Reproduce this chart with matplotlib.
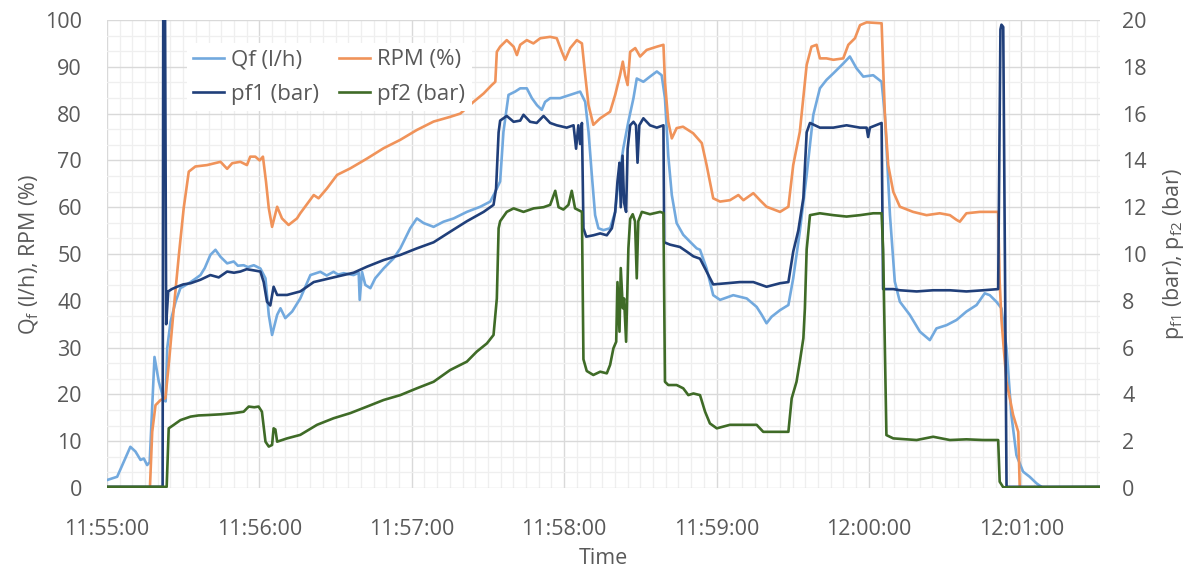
import datetime as dt
import matplotlib
matplotlib.use("Agg")
import matplotlib.pyplot as plt
from matplotlib.ticker import MultipleLocator, FuncFormatter

plt.rcParams['font.family'] = ['Open Sans', 'DejaVu Sans']
plt.rcParams['mathtext.fontset'] = 'custom'
plt.rcParams['mathtext.rm'] = 'Open Sans'

# time in seconds after 11:55:00, value
qf = [(0, 1.7), (4, 2.4), (6.6, 5.6), (9.2, 8.8), (11.2, 7.8), (13.2, 6), (14.5, 6.3),
      (15.8, 4.9), (16.8, 5.5), (18.7, 28), (20.4, 22.7), (22.4, 18.8), (23.1, 18.5),
      (23.7, 29.8), (25, 35.5), (27, 39.8), (28.9, 42.7), (30.5, 43.2), (32.9, 44),
      (34.5, 44.6), (36.8, 45.5), (38.5, 47), (40.7, 49.8), (42.7, 50.9), (44.7, 49.4),
      (47.3, 48), (49.9, 48.4), (51.5, 47.5), (53.8, 47.6), (55.5, 47.2), (57.8, 47.6),
      (60.4, 46.9), (62.4, 44.8), (63.7, 37), (65, 32.7), (67, 37), (68.3, 38.4),
      (70.2, 36.3), (72.9, 37.7), (76.1, 40.5), (80.1, 45.5), (84, 46.2), (86.5, 45.4),
      (89.2, 46.2), (91, 45.6), (93.2, 45.9), (97.1, 45.5), (99.1, 46), (99.5, 40.2),
      (100.4, 46.2), (101.7, 43.4), (103.7, 42.7), (105.6, 44.8), (108.9, 46.9),
      (112.9, 49.1), (115.5, 51.2), (119.4, 55.5), (122, 57.6), (124.7, 56.6),
      (128.6, 55.8), (132.5, 56.9), (136.5, 57.6), (141.7, 59), (147, 60.1),
      (150.9, 61.2), (152.9, 63.3), (154.8, 65.5), (156.1, 76.1), (158.1, 84),
      (160.7, 84.7), (162.7, 85.4), (165.3, 85.4), (167.3, 83.3), (169.3, 81.8),
      (171.2, 80.8), (172.5, 82.5), (174.5, 83.3), (178.4, 83.3), (182.4, 84),
      (186.3, 84.7), (188.3, 82.5), (189.6, 76.1), (190.9, 66.9), (192.2, 58.3),
      (193.5, 55.5), (195.5, 55.1), (198.1, 55.5), (200.1, 59), (201.4, 65.5),
      (203.3, 72.6), (205.3, 78.3), (207.3, 83.3), (208.6, 87.5), (211.2, 86.8),
      (213.8, 87.9), (216.5, 89), (218.4, 88.2), (219.7, 83.3), (221, 71),
      (222.4, 62.6), (224.3, 56.6), (226.9, 54.1), (229.6, 52.6), (232.2, 51.2),
      (233.5, 50.9), (236.1, 46.9), (238.7, 41.2), (241.4, 40.2), (246.6, 41.2),
      (251.9, 40.5), (255.8, 38.7), (257.8, 37), (259.7, 35.2), (261.7, 36.6),
      (265, 38), (268.3, 39.1), (270.2, 44.8), (272.8, 54.8), (275.5, 66.9),
      (278.1, 79.7), (280.7, 85.4), (283.3, 87.2), (286, 88.6), (289.9, 90.7),
      (292.5, 92.2), (295.1, 89.7), (297.8, 87.9), (301.7, 88.2), (305, 86.8),
      (306.3, 79.7), (308.3, 58.3), (310.2, 44.1), (312.2, 39.8), (316.1, 37),
      (320.1, 33.4), (324, 31.6), (326.6, 34.1), (330.6, 34.8), (334.5, 35.9),
      (338.4, 37.7), (342.4, 39.1), (345.6, 41.6), (347.6, 41.2), (350.2, 39.8),
      (352.2, 38.4), (354.2, 29.8), (356.1, 15.6), (358.1, 7), (360.7, 3.5),
      (363.3, 2.4), (366, 1), (368.6, 0), (391, 0)]

rpm = [(0, 0), (16.9, 0), (17.8, 12), (19.1, 17.7), (21.1, 18.8), (23, 19.2),
       (24.3, 26.3), (26.3, 38.4), (28.3, 49.8), (30.2, 59.8), (32.2, 67.6),
       (34.8, 68.7), (39.4, 69), (44.7, 69.7), (47.3, 68.2), (49.3, 69.4),
       (52.5, 69.7), (55.1, 69), (56.4, 70.8), (58.4, 70.8), (60.1, 70),
       (61.4, 70.8), (62.6, 65.5), (63.7, 59.8), (65, 55.8), (67, 60.1),
       (68.9, 57.6), (71.5, 56.2), (74.8, 57.6), (76.1, 58.7), (81.4, 62.6),
       (83.3, 61.9), (86.6, 64), (90.6, 66.9), (95.8, 68.3), (102.4, 70.4),
       (108.9, 72.6), (115.5, 74.4), (122, 76.5), (128.6, 78.3), (135.1, 79.3),
       (139.1, 80), (144.3, 82.5), (148.3, 84.3), (151.5, 86.1), (152.9, 86.8),
       (153.5, 93.2), (154.8, 94.3), (157.4, 95.7), (160.1, 94.3), (161.4, 92.5),
       (162.7, 94.7), (165.3, 95.7), (167.9, 95), (170.6, 96.1), (174.5, 96.4),
       (177.1, 96.1), (179.1, 93.2), (180.4, 91.5), (182.4, 94), (185, 95.7),
       (187, 95), (188.3, 88.2), (189.6, 81.8), (191.5, 77.6), (194.2, 79),
       (198.1, 80.4), (200.1, 84), (202, 88.2), (203.1, 91.1), (204, 88.2),
       (205, 86.1), (206, 93.2), (208, 94), (209.9, 92.2), (212.5, 93.6),
       (216.5, 94.3), (219.1, 94.7), (219.7, 86.8), (221, 78.3), (222.4, 74.7),
       (224.3, 76.9), (226.8, 77.2), (230.8, 75.8), (234.2, 73.7), (236.1, 69),
       (238.7, 61.9), (241.4, 61.2), (245.3, 61.5), (248.6, 62.6), (250.6, 61.5),
       (254.5, 63), (257.1, 61.5), (259.7, 60.1), (265, 59), (268.3, 60.1),
       (270.2, 69), (272.8, 76.1), (275.5, 90.4), (277.4, 94.3), (279.4, 94.7),
       (280.7, 91.8), (283.3, 91.8), (286, 91.5), (289.9, 91.8), (291.9, 94.7),
       (294.5, 96.1), (296.5, 98.9), (299.1, 99.5), (305, 99.3), (306.3, 79.7),
       (307.6, 69), (309.6, 63.3), (312.2, 60.1), (317.4, 59), (322.7, 58.3),
       (327.9, 58.7), (331.9, 58.3), (334.5, 57.3), (335.8, 56.9), (338.4, 58.7),
       (343.7, 59), (350.9, 59), (351.5, 44), (352.2, 36), (353.1, 29.8),
       (354.2, 22.7), (356.8, 15.6), (358.8, 12), (359.4, 0), (391, 0)]

pf1 = [(0, 0.05), (21.9, 0.05), (22.2, 25), (22.7, 25), (23.3, 7.0), (24.1, 8.4),
       (25.5, 8.5), (27.6, 8.6), (30, 8.7), (32.9, 8.75), (36.8, 8.9), (40.7, 9.1),
       (44, 9.0), (47.3, 9.25), (50, 9.2), (52.5, 9.25), (55, 9.35), (57.8, 9.3),
       (60.4, 9.25), (61.7, 8.8), (63, 7.96), (64.3, 7.8), (65.6, 8.6), (67, 8.25),
       (70.9, 8.25), (76.1, 8.4), (81.4, 8.8), (89.2, 9.0), (97.1, 9.2), (102.4, 9.46),
       (108.9, 9.74), (115.5, 9.96), (122, 10.24), (128.6, 10.5), (135.1, 10.95),
       (141.7, 11.4), (148.3, 11.8), (152.2, 12.1), (153.2, 12.8), (154.2, 15.2),
       (154.8, 15.7), (157.4, 15.9), (160.1, 15.65), (162.7, 15.7), (164, 15.95),
       (166.6, 15.65), (169.2, 15.6), (171.9, 15.9), (174.5, 15.6), (177.1, 15.5),
       (181, 15.4), (183.7, 15.5), (184.7, 14.5), (185.6, 15.5), (186.3, 14.7),
       (187, 15.6), (187.6, 11.1), (188.7, 10.74), (191.5, 10.8), (194.2, 10.88),
       (196.8, 10.8), (198.8, 11.1), (200.1, 11.8), (201, 13.1), (201.8, 13.9),
       (202.3, 12), (203, 14.2), (203.6, 12.2), (204.4, 11.8), (205, 14.5),
       (206, 15.5), (207.3, 15.65), (208.3, 15.5), (208.9, 13.9), (209.6, 15.5),
       (211.2, 15.8), (213.8, 15.5), (216.5, 15.4), (219.1, 15.5), (219.4, 10.5),
       (221.7, 10.4), (225.6, 10.3), (228.3, 10.1), (230.9, 9.9), (233.5, 9.8),
       (236.1, 9.25), (238.7, 8.7), (244, 8.75), (249.2, 8.8), (254.5, 8.8),
       (259.7, 8.6), (265, 8.75), (268.3, 8.8), (270.2, 10.1), (272.2, 11),
       (274.2, 12.4), (275.5, 15.2), (276.8, 15.6), (280.7, 15.4), (286, 15.4),
       (291.2, 15.5), (296.5, 15.4), (299.1, 15.4), (299.7, 15.0), (300.4, 15.4),
       (305, 15.6), (305.6, 8.5), (309.6, 8.5), (312.2, 8.45), (318.8, 8.4),
       (325.3, 8.45), (331.9, 8.45), (338.4, 8.4), (345, 8.45), (350.9, 8.5),
       (351.8, 19.6), (352.2, 19.8), (352.9, 19.7), (354.2, 0.05), (391, 0.05)]

pf2 = [(0, 0.05), (23.5, 0.05), (24.3, 2.55), (26.3, 2.7), (28.9, 2.9), (32.9, 3.05),
       (36, 3.1), (40, 3.12), (45, 3.15), (50, 3.2), (53.8, 3.26), (55.8, 3.48),
       (58, 3.45), (59.7, 3.48), (61, 3.26), (62.4, 1.98), (63.7, 1.77), (65, 1.84),
       (65.6, 2.55), (66.3, 2.5), (67, 1.98), (70.9, 2.12), (76.1, 2.27), (82.7, 2.7),
       (89.2, 2.98), (95.8, 3.2), (102.4, 3.48), (108.9, 3.76), (115.5, 3.97),
       (122, 4.26), (128.6, 4.54), (135.1, 5.04), (141.7, 5.4), (145.6, 5.83),
       (149.6, 6.18), (152.2, 6.54), (153.5, 8.1), (154.2, 11.1), (154.8, 11.4),
       (157.4, 11.8), (160.1, 11.95), (164, 11.8), (168, 11.95), (171.9, 12.0),
       (174.5, 12.1), (176.5, 12.7), (177.8, 12.0), (179.7, 11.9), (181.7, 12.1),
       (183, 12.7), (184.3, 11.95), (187, 11.8), (187.6, 5.5), (188.9, 5.0),
       (191.5, 4.83), (194.2, 4.97), (196.8, 4.9), (198.1, 5.26), (199.4, 5.97),
       (200.5, 6.25), (201, 8.8), (201.8, 6.68), (202.3, 9.4), (203.1, 7.68),
       (203.6, 8.1), (204.4, 6.25), (205.3, 10.24), (206, 11.5), (207, 11.7),
       (207.9, 11.4), (208.6, 8.96), (209.2, 11.4), (210.6, 11.8), (213.8, 11.7),
       (217.8, 11.8), (219.1, 11.75), (219.7, 4.54), (221, 4.4), (224.3, 4.4),
       (226.9, 4.26), (228.9, 3.97), (230.9, 4.04), (233.5, 3.97), (235.5, 3.26),
       (237.4, 2.76), (240.1, 2.55), (245.3, 2.7), (250.6, 2.7), (255.8, 2.7),
       (258.4, 2.4), (262.4, 2.4), (268.3, 2.4), (269.6, 3.83), (271.5, 4.54),
       (272.8, 5.4), (274.2, 6.4), (274.8, 7.68), (275.5, 10.2), (276.8, 11.66),
       (280.7, 11.74), (286, 11.66), (291.2, 11.6), (296.5, 11.66), (301.7, 11.74),
       (305, 11.74), (305.6, 10.2), (306.9, 2.26), (309.6, 2.12), (312.2, 2.1),
       (318.8, 2.05), (325.3, 2.19), (331.9, 2.05), (338.4, 2.08), (345, 2.05),
       (350.9, 2.05), (351.5, 0.27), (352.9, 0.03), (391, 0.05)]

labels = ['Qf (l/h)', 'RPM (%)', 'pf1 (bar)', 'pf2 (bar)']
colors = ['#72A9DE', '#F0935A', '#203F7A', '#3F6B27']
start = dt.datetime(2000, 1, 1, 11, 55, 0)
text_col = '#595959'
fs = 15.5


def xy(series):
    return [p[0] for p in series], [p[1] for p in series]


fig = plt.figure(figsize=(11.91, 5.69), dpi=100)
ax = fig.add_axes([107 / 1191, 1 - 488 / 569, 993 / 1191, 468 / 569])
ax2 = ax.twinx()

lines = []
for s, lab, c, a in zip([qf, rpm, pf1, pf2], labels, colors, [ax, ax, ax2, ax2]):
    t, v = xy(s)
    ln, = a.plot(t, v, color=c, lw=1.9, label=lab)
    lines.append(ln)

ax.set_xlim(0, 391)
ax.set_ylim(0, 100)
ax2.set_ylim(0, 20)
ax.xaxis.set_major_locator(MultipleLocator(60))
ax.xaxis.set_minor_locator(MultipleLocator(5))
ax.yaxis.set_major_locator(MultipleLocator(10))
ax.yaxis.set_minor_locator(MultipleLocator(10 / 3))
ax2.yaxis.set_major_locator(MultipleLocator(2))
ax.xaxis.set_major_formatter(FuncFormatter(
    lambda s, pos: (start + dt.timedelta(seconds=s)).strftime('%H:%M:%S')))

ax.grid(which='major', color='#D9D9D9', lw=1.0)
ax.grid(which='minor', color='#EFEFEF', lw=0.9)
ax.set_axisbelow(True)
for a in (ax, ax2):
    for sp in a.spines.values():
        sp.set_visible(False)
ax.tick_params(axis='both', which='both', length=0, labelsize=fs, colors=text_col)
ax.tick_params(axis='y', pad=18)
ax.tick_params(axis='x', pad=22)
ax2.tick_params(axis='y', length=0, labelsize=fs, colors=text_col, pad=16)

ax.set_xlabel('Time', fontsize=fs, color=text_col)
ax.set_ylabel(r'Q$_\mathregular{f}$ (l/h), RPM (%)', fontsize=fs, color=text_col)
ax2.set_ylabel(r'p$_\mathregular{f1}$ (bar), p$_\mathregular{f2}$ (bar)', fontsize=fs,
               color=text_col)
ax.xaxis.set_label_coords(0.5, -0.128)
ax.yaxis.set_label_coords(-0.066, 0.5)
ax2.yaxis.set_label_coords(1.061, 0.5)

# matplotlib fills legend columns first, so reorder to get Qf | RPM on row one
order = [0, 2, 1, 3]
leg = ax2.legend([lines[i] for i in order], [labels[i] for i in order], ncol=2,
                 loc='upper left', bbox_to_anchor=(0.069, 0.975),
                 fontsize=16, frameon=True, facecolor='white', edgecolor='none',
                 framealpha=1, fancybox=False, handlelength=1.4, handletextpad=0.3,
                 columnspacing=0.9, labelspacing=0.6, borderpad=0.3)
for txt in leg.get_texts():
    txt.set_color(text_col)

fig.savefig('out.png', dpi=100)
